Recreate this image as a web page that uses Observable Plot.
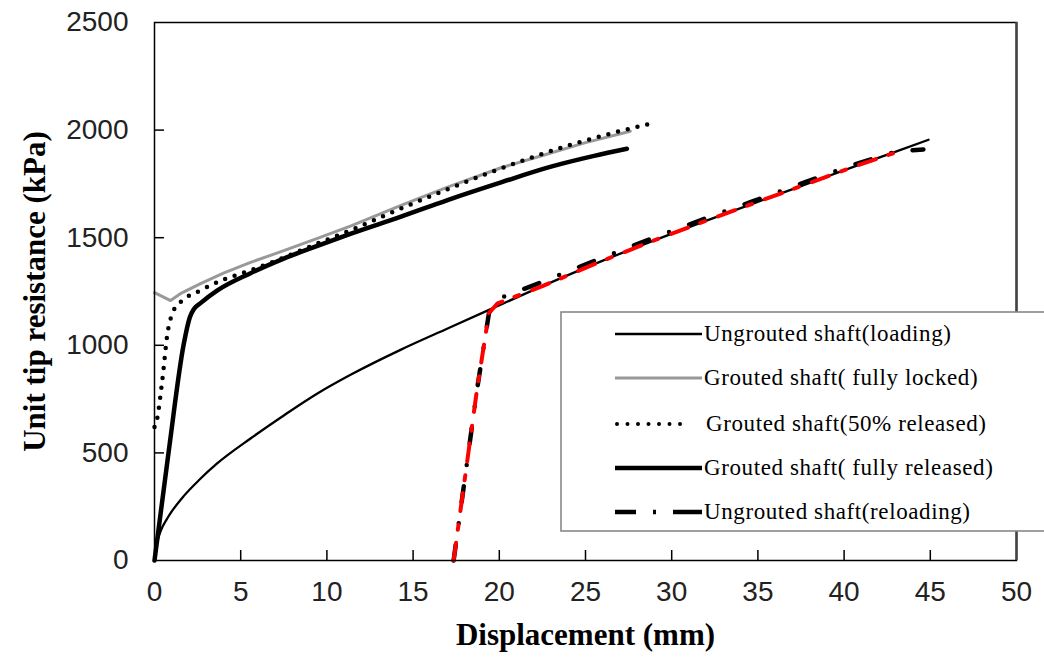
<!DOCTYPE html>
<html>
<head>
<meta charset="utf-8">
<script src="https://cdn.jsdelivr.net/npm/d3@7"></script>
<script src="https://cdn.jsdelivr.net/npm/@observablehq/plot@0.6"></script>
<style>
  html, body { margin: 0; padding: 0; background: #fff; }
  #chart { position: relative; width: 1044px; height: 667px; }
</style>
</head>
<body>
<div id="chart"></div>
<script>
// ---- Data ----
const loadingX = [0, 0.1, 0.35, 0.7, 1.0, 1.68, 2.6, 3.65, 5.57, 7.5, 9.45, 11.4, 14.3, 17, 19.5, 22.5, 25.9, 28.8, 31.7, 34.6, 37.5, 40.5, 43, 44.9];
const loadingY = [0, 60, 135, 190, 228, 298, 375, 452, 567, 674, 776, 864, 980, 1078, 1168, 1275, 1390, 1482, 1570, 1655, 1740, 1828, 1900, 1955];

const lockedX = [0, 0.5, 0.93, 1.5, 2.67, 4, 5.57, 7.5, 9.45, 11.4, 14.3, 17, 20.1, 22.5, 25, 27.6];
const lockedY = [1245, 1225, 1208, 1240, 1287, 1335, 1385, 1440, 1497, 1555, 1650, 1735, 1825, 1882, 1942, 1995];

const halfX = [0, 0.1, 0.45, 0.75, 1.1, 1.5, 2.67, 4, 5.57, 7.5, 9.45, 11.4, 14.3, 17, 20.1, 24, 26.5, 28.8];
const halfY = [620, 640, 836, 1054, 1160, 1200, 1255, 1305, 1348, 1408, 1473, 1535, 1636, 1725, 1822, 1928, 1985, 2030];

const releasedX = [0, 0.83, 1.70, 2.05, 2.3, 2.67, 3.65, 5.57, 7.5, 9.45, 11.4, 14.3, 17, 20.1, 23, 25.5, 27.4];
const releasedY = [0, 511, 1007, 1130, 1170, 1196, 1255, 1335, 1403, 1462, 1519, 1598, 1675, 1757, 1830, 1880, 1913];

const reloadX = [17.35, 18.0, 18.7, 19.4, 19.9, 22.5, 25.9, 28.8, 31.7, 34.6, 37.5, 40.5, 43, 44.6];
const reloadY = [0, 380, 790, 1150, 1215, 1295, 1405, 1495, 1582, 1666, 1751, 1838, 1900, 1910];

const fitX = [17.35, 18.0, 18.7, 19.4, 19.9, 22.5, 25.9, 28.8, 31.7, 34.6, 37.5, 40.5, 43.3];
const fitY = [0, 380, 790, 1150, 1195, 1275, 1390, 1482, 1570, 1655, 1740, 1828, 1905];

const xTickValues = [0, 5, 10, 15, 20, 25, 30, 35, 40, 45, 50];
const yTickValues = [0, 500, 1000, 1500, 2000, 2500];

const xTitle = "Displacement (mm)";
const yTitle = "Unit tip resistance (kPa)";
const legendLabels = [
  "Ungrouted shaft(loading)",
  "Grouted shaft( fully locked)",
  "Grouted shaft(50% released)",
  "Grouted shaft( fully released)",
  "Ungrouted shaft(reloading)"
];

// ---- Build tables ----
const rows = (xs, ys) => xs.map((x, i) => ({x, y: ys[i]}));
const loading = rows(loadingX, loadingY);
const locked = rows(lockedX, lockedY);
const half = rows(halfX, halfY);
const released = rows(releasedX, releasedY);
const reload = rows(reloadX, reloadY);
const fit = rows(fitX, fitY);

const W = 1044, H = 667;
const mL = 154, mR = 28, mT = 22, mB = 107;
const plotW = W - mL - mR, plotH = H - mT - mB;

const tickFont = "Liberation Sans, Arial, sans-serif";
const serif = "Liberation Serif, Times New Roman, serif";

const chart = Plot.plot({
  width: W, height: H,
  marginLeft: mL, marginRight: mR, marginTop: mT, marginBottom: mB,
  x: {domain: [0, 50], axis: null},
  y: {domain: [0, 2500], axis: null},
  style: {background: "white", fontFamily: tickFont, overflow: "hidden"},
  marks: [
    // inward ticks
    Plot.tickX(xTickValues.slice(1, -1), {x: d => d, insetTop: plotH - 10, stroke: "#000", strokeWidth: 1.5}),
    Plot.tickY(yTickValues.slice(1, -1), {y: d => d, insetRight: plotW - 10, stroke: "#000", strokeWidth: 1.5}),
    // tick labels
    Plot.text(xTickValues, {x: d => d, text: d => String(d), frameAnchor: "bottom", dy: 40, fontSize: 28, fill: "#222"}),
    Plot.text(yTickValues, {y: d => d, text: d => String(d), frameAnchor: "left", dx: -26, textAnchor: "end", fontSize: 28, fill: "#222"}),
    // axis titles
    Plot.text([xTitle], {frameAnchor: "bottom", dy: 84, fontSize: 31, fontWeight: "bold", fontFamily: serif, fill: "#000"}),
    Plot.text([yTitle], {frameAnchor: "left", dx: -119, rotate: -90, textAnchor: "middle", fontSize: 31, fontWeight: "bold", fontFamily: serif, fill: "#000"}),
    // curves
    Plot.line(loading, {x: "x", y: "y", stroke: "#000", strokeWidth: 2.3, curve: "monotone-x"}),
    Plot.line(locked, {x: "x", y: "y", stroke: "#999", strokeWidth: 3, curve: "linear"}),
    Plot.line(released, {x: "x", y: "y", stroke: "#000", strokeWidth: 4.5, curve: "monotone-x"}),
    Plot.line(half, {x: "x", y: "y", stroke: "#000", strokeWidth: 4.5, strokeDasharray: "0 10", strokeLinecap: "round", curve: "monotone-x"}),
    Plot.line(reload, {x: "x", y: "y", stroke: "#000", strokeWidth: 4.5, strokeDasharray: "16 21.5 0 21.5", strokeLinecap: "round", curve: "linear"}),
    Plot.line(fit, {x: "x", y: "y", stroke: "#ff0000", strokeWidth: 4, strokeDasharray: "18 13 5 14", curve: "linear"}),
    // frame
    Plot.frame({stroke: "#000", strokeWidth: 1.5}),
    Plot.ruleX([50], {stroke: "#444", strokeWidth: 2.5})
  ]
});

document.getElementById("chart").appendChild(chart);

// ---- Legend (drawn into the same SVG) ----
const svg = d3.select(chart);
const lg = svg.append("g").attr("class", "legend").attr("text-anchor", "start");
lg.append("rect")
  .attr("x", 561).attr("y", 312).attr("width", 520).attr("height", 219)
  .attr("fill", "#fff").attr("stroke", "#888").attr("stroke-width", 1.6);

const rowY = [334, 378, 424, 468, 512];
const samples = [
  {stroke: "#000", width: 2.5, dash: null, cap: "butt", x2: 702},
  {stroke: "#999", width: 3, dash: null, cap: "butt", x2: 702},
  {stroke: "#000", width: 4, dash: "0 10.5", cap: "round", x2: 690},
  {stroke: "#000", width: 4.5, dash: null, cap: "butt", x2: 702},
  {stroke: "#000", width: 4.5, dash: "21 17 3 17 30", cap: "butt", x2: 702}
];
legendLabels.forEach((label, i) => {
  const s = samples[i];
  const ln = lg.append("line")
    .attr("x1", i === 2 ? 617 : 615).attr("x2", s.x2)
    .attr("y1", rowY[i]).attr("y2", rowY[i])
    .attr("stroke", s.stroke).attr("stroke-width", s.width)
    .attr("stroke-linecap", s.cap);
  if (s.dash) ln.attr("stroke-dasharray", s.dash);
  lg.append("text")
    .attr("x", i === 2 ? 706 : 704).attr("y", rowY[i] + 7)
    .attr("text-anchor", "start")
    .attr("font-family", serif).attr("font-size", 23)
    .attr("letter-spacing", "0.6px")
    .attr("fill", "#000")
    .text(label);
});
</script>
</body>
</html>
